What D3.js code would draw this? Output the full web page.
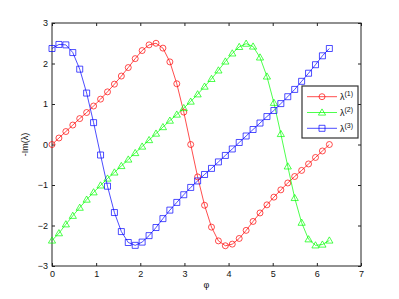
<!DOCTYPE html>
<html>
<head>
<meta charset="utf-8">
<script src="https://cdn.jsdelivr.net/npm/d3@7"></script>
<style>
  html, body { margin: 0; padding: 0; background: #fff; }
  svg { display: block; font-family: "Liberation Sans", Arial, sans-serif; }
</style>
</head>
<body>
<div id="chart"></div>
<script>
// phi samples (41 points over 0..2pi)
const phi = [0.000, 0.157, 0.314, 0.471, 0.628, 0.785, 0.942, 1.100, 1.257, 1.414,
  1.571, 1.728, 1.885, 2.042, 2.199, 2.356, 2.513, 2.670, 2.827, 2.985,
  3.142, 3.299, 3.456, 3.613, 3.770, 3.927, 4.084, 4.241, 4.398, 4.555,
  4.712, 4.869, 5.027, 5.184, 5.341, 5.498, 5.655, 5.812, 5.969, 6.126, 6.283];

// -Im(lambda)
const lambda1 = [0.00, 0.16, 0.32, 0.48, 0.64, 0.79, 0.95, 1.12, 1.30, 1.49,
  1.69, 1.90, 2.12, 2.32, 2.46, 2.50, 2.38, 2.04, 1.50, 0.80,
  0.00, -0.80, -1.50, -2.04, -2.38, -2.50, -2.46, -2.32, -2.12, -1.90,
  -1.69, -1.49, -1.30, -1.12, -0.95, -0.79, -0.64, -0.48, -0.32, -0.16, 0.00];
const lambda2 = [-2.37, -2.19, -1.97, -1.76, -1.56, -1.36, -1.18, -1.01, -0.84, -0.69,
  -0.53, -0.37, -0.21, -0.05, 0.11, 0.27, 0.43, 0.59, 0.74, 0.90,
  1.06, 1.24, 1.43, 1.62, 1.83, 2.05, 2.25, 2.41, 2.49, 2.42,
  2.15, 1.68, 1.03, 0.26, -0.54, -1.32, -1.93, -2.34, -2.49, -2.47, -2.37];
const lambda3 = [2.37, 2.47, 2.46, 2.27, 1.86, 1.27, 0.54, -0.26, -1.03, -1.68,
  -2.15, -2.42, -2.49, -2.41, -2.25, -2.05, -1.83, -1.62, -1.43, -1.24,
  -1.06, -0.90, -0.74, -0.59, -0.43, -0.27, -0.11, 0.05, 0.21, 0.37,
  0.53, 0.69, 0.84, 1.01, 1.18, 1.36, 1.56, 1.76, 1.97, 2.19, 2.37];

const xTicks = [0, 1, 2, 3, 4, 5, 6, 7];
const yTicks = [-3, -2, -1, 0, 1, 2, 3];
const seriesNames = ['(1)', '(2)', '(3)'];

const SERIES = [
  { name: seriesNames[0], values: lambda1, color: '#ff0000', marker: 'circle' },
  { name: seriesNames[1], values: lambda2, color: '#00ff00', marker: 'triangle' },
  { name: seriesNames[2], values: lambda3, color: '#0000ff', marker: 'square' },
];

const W = 399, H = 299;
const M = { top: 23, right: 38, bottom: 33, left: 52 };
const innerW = W - M.left - M.right, innerH = H - M.top - M.bottom;

const svg = d3.select('#chart').append('svg').attr('width', W).attr('height', H);
svg.append('rect').attr('width', W).attr('height', H).attr('fill', '#fff');
const inner = svg.append('g').attr('transform', `translate(${M.left},${M.top})`);

const x = d3.scaleLinear().domain([0, 7]).range([0, innerW]);
const y = d3.scaleLinear().domain([-3, 3]).range([innerH, 0]);
const intFmt = d3.format('d');

// ticks on all four sides, pointing inward (matlab box style)
function styleAxis(g) {
  g.select('.domain').remove();
  g.selectAll('line').attr('stroke', '#222');
  g.selectAll('text').attr('fill', '#111').style('font-size', '9px');
}
inner.append('g').attr('transform', `translate(0,${innerH})`)
  .call(d3.axisBottom(x).tickValues(xTicks).tickFormat(intFmt).tickSize(-3).tickPadding(5))
  .call(styleAxis);
inner.append('g')
  .call(d3.axisTop(x).tickValues(xTicks).tickSize(-3).tickFormat('')).call(styleAxis);
inner.append('g')
  .call(d3.axisLeft(y).tickValues(yTicks).tickFormat(intFmt).tickSize(-3).tickPadding(4))
  .call(styleAxis);
inner.append('g').attr('transform', `translate(${innerW},0)`)
  .call(d3.axisRight(y).tickValues(yTicks).tickSize(-3).tickFormat('')).call(styleAxis);

inner.append('rect')
  .attr('width', innerW).attr('height', innerH)
  .attr('fill', 'none').attr('stroke', '#222').attr('stroke-width', 1);

// axis labels
inner.append('text')
  .attr('x', innerW / 2).attr('y', innerH + 22).attr('text-anchor', 'middle')
  .style('font-size', '9px').attr('fill', '#111')
  .text('φ');
inner.append('text')
  .attr('transform', `translate(${-24},${innerH / 2}) rotate(-90)`)
  .attr('text-anchor', 'middle')
  .style('font-size', '9px').attr('fill', '#111')
  .text('-Im(λ)');

const markerPath = {
  circle: d3.symbol().type(d3.symbolCircle).size(Math.PI * 9)(),
  square: 'M-3,-3H3V3H-3Z',
  triangle: 'M0,-3.6L3.6,2.6L-3.6,2.6Z',
};

const line = d3.line().x((d, i) => x(phi[i])).y(d => y(d));

SERIES.forEach(s => {
  const g = inner.append('g');
  g.append('path')
    .attr('d', line(s.values))
    .attr('fill', 'none').attr('stroke', s.color).attr('stroke-width', 0.7);
  g.selectAll('path.mk').data(s.values).enter().append('path')
    .attr('class', 'mk')
    .attr('transform', (d, i) => `translate(${x(phi[i])},${y(d)})`)
    .attr('d', markerPath[s.marker])
    .attr('fill', 'none').attr('stroke', s.color).attr('stroke-width', 0.7);
});

// legend box
const lg = svg.append('g').attr('transform', 'translate(302,86)');
lg.append('rect').attr('width', 56).attr('height', 52)
  .attr('fill', '#fff').attr('stroke', '#333').attr('stroke-width', 1.2);
SERIES.forEach((s, i) => {
  const yy = 10.7 + i * 15.8;
  lg.append('line').attr('x1', 5).attr('x2', 35).attr('y1', yy).attr('y2', yy)
    .attr('stroke', s.color).attr('stroke-width', 0.7);
  lg.append('path').attr('transform', `translate(20,${yy})`)
    .attr('d', markerPath[s.marker])
    .attr('fill', 'none').attr('stroke', s.color).attr('stroke-width', 0.7);
  const t = lg.append('text').attr('x', 38).attr('y', yy + 3.3)
    .style('font-size', '9px').attr('fill', '#111');
  t.append('tspan').text('λ');
  t.append('tspan').attr('dy', -4).style('font-size', '7px').text(s.name);
});
</script>
</body>
</html>
